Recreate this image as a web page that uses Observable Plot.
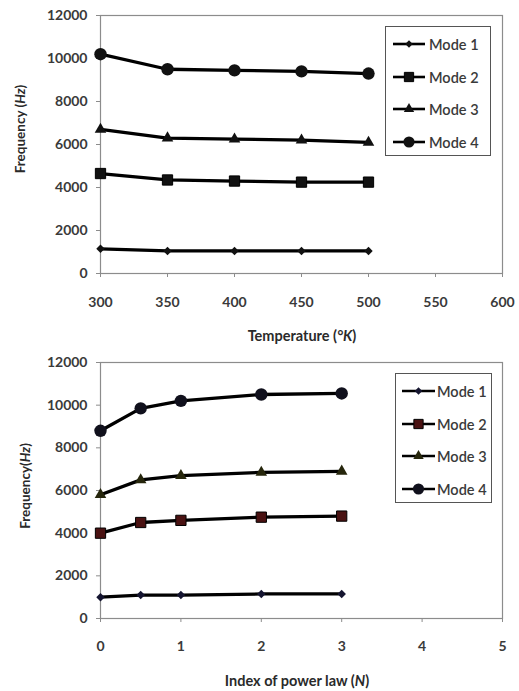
<!DOCTYPE html>
<html>
<head>
<meta charset="utf-8">
<script src="https://cdn.jsdelivr.net/npm/d3@7"></script>
<script src="https://cdn.jsdelivr.net/npm/@observablehq/plot@0.6"></script>
<style>
  html, body { margin: 0; padding: 0; background: #fff; }
  #page { position: relative; width: 519px; height: 691px; overflow: hidden; font-family: Lato, "Open Sans", sans-serif; }
  .panel { position: absolute; left: 0; width: 519px; }
  .panel svg text { fill: #3a3a3a; font-weight: 700; }
  .title { position: absolute; transform: translate(-50%, -50%); white-space: nowrap; font-weight: 700; color: #2a2a2a; font-size: 14.5px; }
  .ytitle { transform: translate(-50%, -50%) rotate(-90deg); font-size: 13.5px; }
  .legend { position: absolute; box-sizing: border-box; border: 1.5px solid #555; background: #fff; padding-top: 1px; }
  .legend .row { position: relative; height: 32.5px; }
  .legend .row svg { position: absolute; top: 50%; transform: translateY(-50%); }
  .legend .row span { position: absolute; top: 50%; transform: translateY(-50%); font-size: 14.5px; font-weight: 600; color: #3a3a3a; white-space: nowrap; }
</style>
</head>
<body>
<div id="page">
  <div id="p1" class="panel" style="top:0;height:345px"></div>
  <div id="p2" class="panel" style="top:345px;height:346px"></div>
</div>
<script>
// ---- Data ----
const modes = ["Mode 1", "Mode 2", "Mode 3", "Mode 4"];
const yTicks = [0, 2000, 4000, 6000, 8000, 10000, 12000];

// Chart 1: frequency vs temperature
const temperature = [300, 350, 400, 450, 500];
const tempTicks = [300, 350, 400, 450, 500, 550, 600];
const tempMode1 = [1150, 1050, 1050, 1050, 1050];
const tempMode2 = [4650, 4350, 4300, 4250, 4250];
const tempMode3 = [6700, 6300, 6250, 6200, 6100];
const tempMode4 = [10200, 9500, 9450, 9400, 9300];

// Chart 2: frequency vs index of power law
const powerIndex = [0, 0.5, 1, 2, 3];
const powerTicks = [0, 1, 2, 3, 4, 5];
const powMode1 = [1000, 1100, 1100, 1150, 1150];
const powMode2 = [4000, 4500, 4600, 4750, 4800];
const powMode3 = [5800, 6500, 6700, 6850, 6900];
const powMode4 = [8800, 9850, 10200, 10500, 10550];

// ---- Styling per mode ----
const diamond = d3.symbolDiamond2 || d3.symbolDiamond;
const symbols = [diamond, d3.symbolSquare, d3.symbolTriangle, d3.symbolCircle];
const plotSymbols = [diamond, "square", "triangle", "circle"];
const radii = [3.8, 5.8, 4.3, 6.2];
const fills1 = ["#111", "#111", "#111", "#111"];
const fills2 = ["#151530", "#4a1212", "#26260c", "#10101c"];

function rowsOf(xs, seriesList) {
  const rows = [];
  seriesList.forEach((vals, i) => vals.forEach((v, j) => rows.push({x: xs[j], v, mode: modes[i]})));
  return rows;
}

function makeChart(el, opts) {
  const rows = rowsOf(opts.xs, opts.series);
  const marks = [
    Plot.frame({stroke: "#8c8c8c", strokeWidth: 1.2}),
    Plot.line(rows, {x: "x", y: "v", z: "mode", stroke: "#000", strokeWidth: 3.3})
  ];
  modes.forEach((m, i) => {
    marks.push(Plot.dot(rows.filter(d => d.mode === m), {
      x: "x", y: "v", symbol: plotSymbols[i], r: radii[i],
      fill: opts.fills[i], stroke: i === 1 ? "#000" : "none", strokeWidth: 1
    }));
  });
  const svg = Plot.plot({
    width: 519, height: opts.height,
    marginLeft: 100, marginRight: 17, marginTop: opts.marginTop, marginBottom: opts.marginBottom,
    style: {background: "transparent", color: "#8c8c8c", fontFamily: "Lato, 'Open Sans', sans-serif", fontSize: "14px", overflow: "visible"},
    x: {domain: opts.xDomain, ticks: opts.xTicks, tickSize: 4, tickPadding: opts.xPad, label: null, tickFormat: d3.format("d")},
    y: {domain: [0, 12000], ticks: yTicks, tickSize: 4, tickPadding: 9, label: null, tickFormat: d3.format("d")},
    marks
  });
  el.appendChild(svg);

  // axis titles
  const xt = document.createElement("div");
  xt.className = "title";
  xt.style.left = opts.xTitlePos[0] + "px"; xt.style.top = opts.xTitlePos[1] + "px";
  xt.innerHTML = opts.xTitle;
  el.appendChild(xt);
  const yt = document.createElement("div");
  yt.className = "title ytitle";
  yt.style.left = opts.yTitlePos[0] + "px"; yt.style.top = opts.yTitlePos[1] + "px";
  yt.innerHTML = opts.yTitle;
  el.appendChild(yt);

  // legend
  const lg = document.createElement("div");
  lg.className = "legend";
  const L = opts.legend;
  lg.style.left = L.left + "px"; lg.style.top = L.top + "px";
  lg.style.width = L.width + "px"; lg.style.height = L.height + "px";
  modes.forEach((m, i) => {
    const row = document.createElement("div");
    row.className = "row";
    row.style.height = L.rowH + "px";
    const s = d3.create("svg").attr("width", 40).attr("height", 16);
    s.append("line").attr("x1", 0).attr("x2", L.lineW).attr("y1", 8).attr("y2", 8)
      .attr("stroke", "#000").attr("stroke-width", 2.6);
    const size = Math.PI * Math.pow(radii[i] * 0.9, 2);
    s.append("path").attr("transform", `translate(${L.lineW / 2},8)`)
      .attr("d", d3.symbol(symbols[i], size)())
      .attr("fill", opts.fills[i]).attr("stroke", i === 1 ? "#000" : "none");
    s.style("left", L.lineX + "px");
    row.appendChild(s.node());
    const t = document.createElement("span");
    t.textContent = m;
    t.style.left = L.textX + "px";
    row.appendChild(t);
    lg.appendChild(row);
  });
  el.appendChild(lg);
}

makeChart(document.getElementById("p1"), {
  xs: temperature, series: [tempMode1, tempMode2, tempMode3, tempMode4],
  xDomain: [300, 600], xTicks: tempTicks, xPad: 20,
  height: 345, marginTop: 15, marginBottom: 72, fills: fills1,
  xTitle: "Temperature (<i>°K</i>)", xTitlePos: [302, 335],
  yTitle: "Frequency (<i>Hz</i>)", yTitlePos: [20, 129],
  legend: {left: 385, top: 26, width: 106, height: 130, rowH: 32.5, lineX: 7, lineW: 32, textX: 43}
});

makeChart(document.getElementById("p2"), {
  xs: powerIndex, series: [powMode1, powMode2, powMode3, powMode4],
  xDomain: [0, 5], xTicks: powerTicks, xPad: 19,
  height: 346, marginTop: 17, marginBottom: 73, fills: fills2,
  xTitle: "Index of power law (<i>N</i>)", xTitlePos: [297, 335],
  yTitle: "Frequency(<i>Hz</i>)", yTitlePos: [25, 141],
  legend: {left: 395, top: 28, width: 97, height: 130, rowH: 32.5, lineX: 6, lineW: 33, textX: 41}
});
</script>
</body>
</html>
